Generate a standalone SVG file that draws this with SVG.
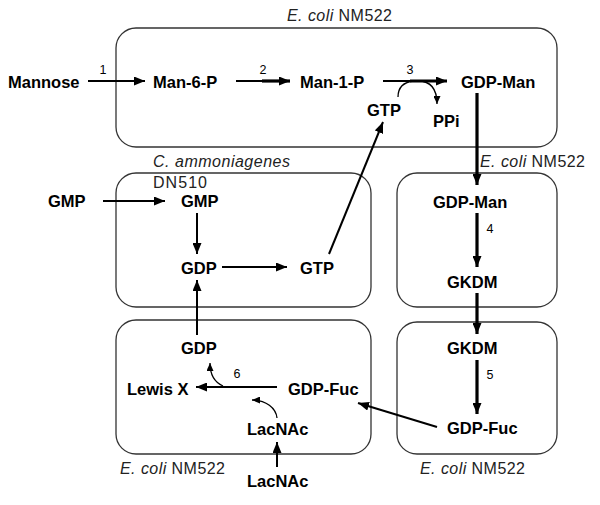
<svg xmlns="http://www.w3.org/2000/svg" width="600" height="505" viewBox="0 0 600 505">
<style>
.box{fill:none;stroke:#333;stroke-width:1.3}
.n{font-family:"Liberation Sans",Arial,sans-serif;font-weight:bold;font-size:16.5px;fill:#000}
.num{font-family:"Liberation Sans",Arial,sans-serif;font-size:12.5px;fill:#000;text-anchor:middle}
.lab{font-family:"Liberation Sans",Arial,sans-serif;font-size:16px;fill:#222}
.it{font-style:italic}
.c{fill:none;stroke:#000;stroke-width:2}
.t{stroke-width:3.2}
.s{stroke-width:1.3}
</style>
<defs>
<marker id="ah" markerWidth="11" markerHeight="9" refX="11" refY="4.5" orient="auto" markerUnits="userSpaceOnUse"><path d="M0,0 L11,4.5 L0,9 z" fill="#000"/></marker>
<marker id="as" markerWidth="8" markerHeight="7" refX="8" refY="3.5" orient="auto" markerUnits="userSpaceOnUse"><path d="M0,0 L8,3.5 L0,7 z" fill="#000"/></marker>
</defs>
<g id="compartments">
<rect id="box-top" class="box" x="116" y="28" width="441" height="119" rx="20"/>
<rect id="box-cam" class="box" x="116" y="173" width="255" height="134" rx="20"/>
<rect id="box-gdpman" class="box" x="397" y="173" width="160" height="134" rx="20"/>
<rect id="box-lewis" class="box" x="116" y="320" width="255" height="134" rx="20"/>
<rect id="box-gkdm" class="box" x="397" y="322" width="160" height="132" rx="20"/>
</g>
<g id="labels">
<text class="lab" x="287" y="21" textLength="105" lengthAdjust="spacing"><tspan class="it">E. coli</tspan> NM522</text>
<text class="lab" x="153" y="167" textLength="137" lengthAdjust="spacing"><tspan class="it">C. ammoniagenes</tspan></text>
<text class="lab" x="153" y="188" textLength="54" lengthAdjust="spacing">DN510</text>
<text class="lab" x="480" y="167" textLength="105" lengthAdjust="spacing"><tspan class="it">E. coli</tspan> NM522</text>
<text class="lab" x="120" y="474" textLength="105" lengthAdjust="spacing"><tspan class="it">E. coli</tspan> NM522</text>
<text class="lab" x="420" y="474" textLength="105" lengthAdjust="spacing"><tspan class="it">E. coli</tspan> NM522</text>
</g>
<g id="n-mannose"><text class="n" x="8" y="88">Mannose</text></g>
<g id="n-man6p"><text class="n" x="153" y="88">Man-6-P</text></g>
<g id="n-man1p"><text class="n" x="300" y="88">Man-1-P</text></g>
<g id="n-gdpman1"><text class="n" x="461" y="88">GDP-Man</text></g>
<g id="n-gtp1"><text class="n" x="367" y="116">GTP</text></g>
<g id="n-ppi"><text class="n" x="433" y="127">PPi</text></g>
<g id="n-gmp-out"><text class="n" x="48" y="207">GMP</text></g>
<g id="n-gmp"><text class="n" x="181" y="207">GMP</text></g>
<g id="n-gdp1"><text class="n" x="181" y="274">GDP</text></g>
<g id="n-gtp2"><text class="n" x="300" y="274">GTP</text></g>
<g id="n-gdpman2"><text class="n" x="433" y="208">GDP-Man</text></g>
<g id="n-gkdm1"><text class="n" x="447" y="288">GKDM</text></g>
<g id="n-gkdm2"><text class="n" x="447" y="354">GKDM</text></g>
<g id="n-gdpfuc1"><text class="n" x="447" y="434">GDP-Fuc</text></g>
<g id="n-gdp2"><text class="n" x="181" y="354">GDP</text></g>
<g id="n-lewisx"><text class="n" x="127" y="395">Lewis X</text></g>
<g id="n-gdpfuc2"><text class="n" x="288" y="395">GDP-Fuc</text></g>
<g id="n-lacnac1"><text class="n" x="247" y="435">LacNAc</text></g>
<g id="n-lacnac2"><text class="n" x="247" y="487">LacNAc</text></g>
<g id="connectors">
<path class="c" d="M88,81 H145" marker-end="url(#ah)"/>
<text class="num" x="103" y="74">1</text>
<path class="c" d="M236,81 H264"/>
<path class="c t" d="M262,81 H290" marker-end="url(#ah)"/>
<text class="num" x="263" y="74">2</text>
<path class="c" d="M383,81 H412"/>
<path class="c t" d="M410,81 H447" marker-end="url(#ah)"/>
<text class="num" x="410" y="74">3</text>
<path class="c s" d="M398,97 C398,87 404,82 414,81"/>
<path class="c s" d="M418,81 C430,81 437,88 437,104" marker-end="url(#as)"/>
<path class="c t" d="M477,93 V185" marker-end="url(#ah)"/>
<path class="c" d="M103,201 H165" marker-end="url(#ah)"/>
<path class="c" d="M197,213 V254" marker-end="url(#ah)"/>
<path class="c" d="M222,267 H287" marker-end="url(#ah)"/>
<path class="c" d="M329,254 L383,122" marker-end="url(#ah)"/>
<path class="c" d="M197,335 V280" marker-end="url(#ah)"/>
<path class="c t" d="M477,213 V267" marker-end="url(#ah)"/>
<text class="num" x="490" y="233">4</text>
<path class="c t" d="M477,293 V334" marker-end="url(#ah)"/>
<path class="c t" d="M477,360 V414" marker-end="url(#ah)"/>
<text class="num" x="490" y="379">5</text>
<path class="c" d="M437,427 L358,403" stroke-width="2.6" marker-end="url(#ah)"/>
<path class="c" d="M277,387 H196" marker-end="url(#ah)"/>
<text class="num" x="237" y="378">6</text>
<path class="c s" d="M223,386 C214,382 210,375 210,363" marker-end="url(#as)"/>
<path class="c s" d="M277,418 C276,408 266,400 252,400" marker-end="url(#as)"/>
<path class="c" d="M277,467 V442" marker-end="url(#ah)"/>
</g>
</svg>
